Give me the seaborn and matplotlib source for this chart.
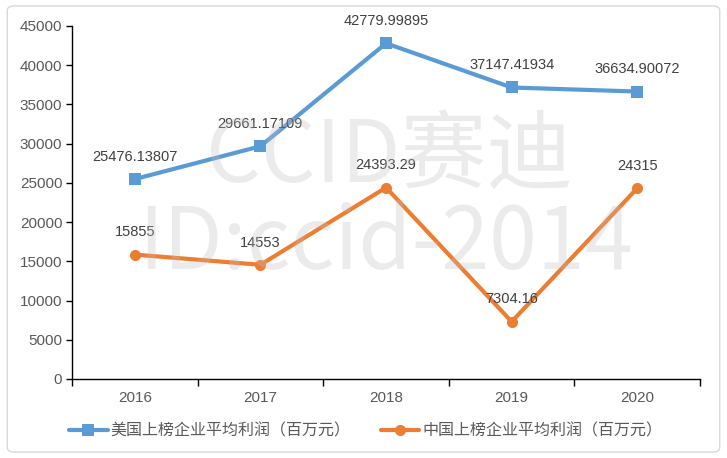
import matplotlib
matplotlib.use("Agg")
import matplotlib.pyplot as plt
import seaborn as sns
import pandas as pd
from matplotlib.patches import FancyBboxPatch
from matplotlib.ticker import FixedLocator

years = ["2016", "2017", "2018", "2019", "2020"]
us_profit = [25476.13807, 29661.17109, 42779.99895, 37147.41934, 36634.90072]
cn_profit = [15855, 14553, 24393.29, 7304.16, 24315]
us_labels = ["25476.13807", "29661.17109", "42779.99895", "37147.41934", "36634.90072"]
cn_labels = ["15855", "14553", "24393.29", "7304.16", "24315"]
us_name = "美国上榜企业平均利润（百万元）"
cn_name = "中国上榜企业平均利润（百万元）"
yticks = [0, 5000, 10000, 15000, 20000, 25000, 30000, 35000, 40000, 45000]

sns.set_theme(style="white")
plt.rcParams['font.family'] = ['Liberation Sans', 'Noto Sans CJK SC', 'DejaVu Sans']

df = pd.DataFrame({
    "year": years * 2,
    "value": us_profit + cn_profit,
    "series": [us_name] * 5 + [cn_name] * 5,
})

fig = plt.figure(figsize=(7.27, 4.58), dpi=100)
ax = fig.add_axes([0.099, 0.1725, 0.864, 0.771])

blue = "#5B9BD5"
orange = "#ED7D31"
sns.lineplot(data=df, x="year", y="value", hue="series", style="series",
             palette={us_name: blue, cn_name: orange},
             markers={us_name: "s", cn_name: "o"}, dashes=False,
             linewidth=3, markersize=8, markeredgewidth=0, ax=ax, sort=False)

txt_color = "#404040"
for i, (v, l) in enumerate(zip(us_profit, us_labels)):
    ax.annotate(l, (i, v), xytext=(0, 11), textcoords="offset points",
                ha="center", va="bottom", fontsize=10.5, color=txt_color)
for i, (v, l) in enumerate(zip(cn_profit, cn_labels)):
    ax.annotate(l, (i, v), xytext=(0, 11), textcoords="offset points",
                ha="center", va="bottom", fontsize=10.5, color=txt_color)

ax.set_ylim(0, 45000)
ax.set_yticks(yticks)
ax.set_xlim(-0.5, len(years) - 0.5)
ax.set_xlabel("")
ax.set_ylabel("")
ax.tick_params(axis="y", labelsize=11, labelcolor="#595959", length=4, width=1, color="black", left=True, pad=3)
ax.tick_params(axis="x", which="major", length=0, labelsize=11, labelcolor="#595959", pad=9)
ax.xaxis.set_minor_locator(FixedLocator([i - 0.5 for i in range(len(years) + 1)]))
ax.tick_params(axis="x", which="minor", length=5, width=1, color="black", bottom=True)
for s in ["top", "right"]:
    ax.spines[s].set_visible(False)
for s in ["left", "bottom"]:
    ax.spines[s].set_color("black")
    ax.spines[s].set_linewidth(1)

leg = ax.legend(loc="upper center", bbox_to_anchor=(0.468, -0.085), ncol=2, frameon=False,
                fontsize=11.5, handlelength=2.4, columnspacing=1.9, handletextpad=0.2)
for t in leg.get_texts():
    t.set_color("#595959")

# watermark
fig.text(0.535, 0.655, "CCID赛迪", fontsize=62, color="#bfbfbf", alpha=0.3,
         ha="center", va="center", family=["Noto Sans CJK SC", "DejaVu Sans"], zorder=10)
fig.text(0.53, 0.465, "ID:ccid-2014", fontsize=62, color="#bfbfbf", alpha=0.3,
         ha="center", va="center", family=["Noto Sans CJK SC", "DejaVu Sans"], zorder=10)

border = FancyBboxPatch((0.01, 0.013), 0.98, 0.974, boxstyle="round,pad=0,rounding_size=0.01",
                        transform=fig.transFigure, fill=False, edgecolor="#d9d9d9", linewidth=1)
fig.patches.append(border)

fig.savefig("out.png", dpi=100)
